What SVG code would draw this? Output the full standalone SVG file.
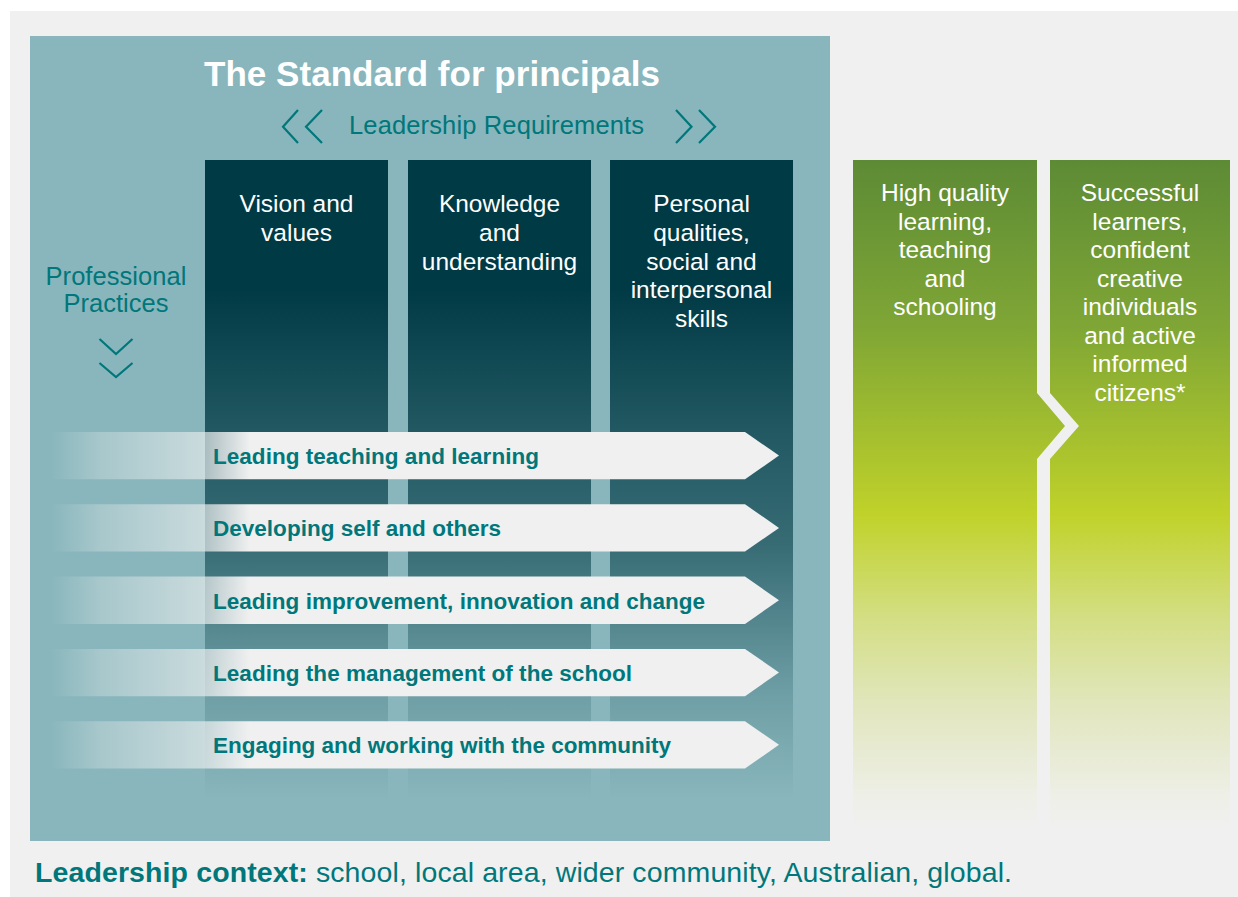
<svg xmlns="http://www.w3.org/2000/svg" width="1238" height="897" viewBox="0 0 1238 897">
<defs>
<linearGradient id="gCol" x1="0" y1="0" x2="0" y2="1">
<stop offset="0" stop-color="#003a45" stop-opacity="1"/>
<stop offset="0.2" stop-color="#003a45" stop-opacity="1"/>
<stop offset="0.42" stop-color="#003a45" stop-opacity="0.76"/>
<stop offset="0.6" stop-color="#003a45" stop-opacity="0.6"/>
<stop offset="0.84" stop-color="#003a45" stop-opacity="0.18"/>
<stop offset="1" stop-color="#003a45" stop-opacity="0"/>
</linearGradient>
<linearGradient id="gBand" gradientUnits="userSpaceOnUse" x1="50" y1="0" x2="250" y2="0">
<stop offset="0" stop-color="#f0f0f0" stop-opacity="0"/>
<stop offset="0.25" stop-color="#f0f0f0" stop-opacity="0.3"/>
<stop offset="0.75" stop-color="#f0f0f0" stop-opacity="0.62"/>
<stop offset="1" stop-color="#f0f0f0" stop-opacity="1"/>
</linearGradient>
<linearGradient id="gGreen" gradientUnits="userSpaceOnUse" x1="0" y1="160" x2="0" y2="830">
<stop offset="0" stop-color="#5d8b35"/>
<stop offset="0.25" stop-color="#7fa635"/>
<stop offset="0.53" stop-color="#c0d22a"/>
<stop offset="0.68" stop-color="#d3de82"/>
<stop offset="0.81" stop-color="#e1e6bc"/>
<stop offset="0.95" stop-color="#eeefe7"/>
<stop offset="1" stop-color="#f0f0f0"/>
</linearGradient>
<path id="band" d="M50,0 H745 L779,23.6 L745,47.3 H50 Z"/>
</defs>
<style>
.t{font-family:"Liberation Sans",Arial,sans-serif}
.wh{fill:#ffffff;font-size:24.5px;text-anchor:middle}
.tl{fill:#00777a}
.bt{fill:#00777a;font-size:22.5px;font-weight:bold}
.chev{fill:none;stroke:#00777a;stroke-width:2.2}
.dc{fill:url(#gCol)}
.bnd{fill:url(#gBand)}
.gr{fill:url(#gGreen)}
</style>
<rect x="10" y="11" width="1228" height="886" fill="#f0f0f0"/>
<g id="standard-box">
<rect x="30" y="36" width="800" height="805" fill="#88b6bc"/>
<text class="t" x="432" y="86" fill="#ffffff" font-size="35" font-weight="bold" text-anchor="middle" textLength="456">The Standard for principals</text>
<text class="t tl" x="496.5" y="134" font-size="25.5" text-anchor="middle" textLength="295">Leadership Requirements</text>
</g>
<g id="col-vision">
<rect class="dc" x="205" y="160" width="183" height="640"/>
<text class="t wh" x="296.5" y="212">Vision and</text>
<text class="t wh" x="296.5" y="241">values</text>
</g>
<g id="col-knowledge">
<rect class="dc" x="408" y="160" width="183" height="640"/>
<text class="t wh" x="499.5" y="212">Knowledge</text>
<text class="t wh" x="499.5" y="241">and</text>
<text class="t wh" x="499.5" y="270">understanding</text>
</g>
<g id="col-personal">
<rect class="dc" x="610" y="160" width="183" height="640"/>
<text class="t wh" x="701.5" y="212">Personal</text>
<text class="t wh" x="701.5" y="241">qualities,</text>
<text class="t wh" x="701.5" y="270">social and</text>
<text class="t wh" x="701.5" y="298">interpersonal</text>
<text class="t wh" x="701.5" y="327">skills</text>
</g>
<g id="professional-practices">
<text class="t tl" x="116" y="285" font-size="25.5" text-anchor="middle" textLength="141">Professional</text>
<text class="t tl" x="116" y="312" font-size="25.5" text-anchor="middle">Practices</text>
</g>
<g id="practice-1">
<use href="#band" class="bnd" y="432"/>
<text class="t bt" x="213" y="463.5" textLength="326">Leading teaching and learning</text>
</g>
<g id="practice-2">
<use href="#band" class="bnd" y="504.3"/>
<text class="t bt" x="213" y="536" textLength="288">Developing self and others</text>
</g>
<g id="practice-3">
<use href="#band" class="bnd" y="576.6"/>
<text class="t bt" x="213" y="608.5" textLength="492">Leading improvement, innovation and change</text>
</g>
<g id="practice-4">
<use href="#band" class="bnd" y="648.9"/>
<text class="t bt" x="213" y="680.5" textLength="419">Leading the management of the school</text>
</g>
<g id="practice-5">
<use href="#band" class="bnd" y="721.2"/>
<text class="t bt" x="213" y="753" textLength="458">Engaging and working with the community</text>
</g>
<g id="outcome-quality">
<path class="gr" d="M853,160 H1037 V393 L1065,426 L1037,459 V830 H853 Z"/>
<text class="t wh" x="945" y="201">High quality</text>
<text class="t wh" x="945" y="229.5">learning,</text>
<text class="t wh" x="945" y="258">teaching</text>
<text class="t wh" x="945" y="286.5">and</text>
<text class="t wh" x="945" y="315">schooling</text>
</g>
<g id="outcome-learners">
<path class="gr" d="M1050,160 H1230 V830 H1050 V459 L1079,426 L1050,393 Z"/>
<text class="t wh" x="1140" y="201">Successful</text>
<text class="t wh" x="1140" y="229.5">learners,</text>
<text class="t wh" x="1140" y="258">confident</text>
<text class="t wh" x="1140" y="286.5">creative</text>
<text class="t wh" x="1140" y="315">individuals</text>
<text class="t wh" x="1140" y="343.5">and active</text>
<text class="t wh" x="1140" y="372">informed</text>
<text class="t wh" x="1140" y="400.5">citizens*</text>
</g>
<g id="context">
<text class="t tl" x="35" y="882" font-size="28.5" textLength="977"><tspan font-weight="bold">Leadership context:</tspan> school, local area, wider community, Australian, global.</text>
</g>
<g id="connectors">
<polyline class="chev" points="298,110 283,126.7 298,143"/>
<polyline class="chev" points="322,110 306,126.7 322,143"/>
<polyline class="chev" points="676,110 691.5,126.7 676,143"/>
<polyline class="chev" points="699,110 715,126.7 699,143"/>
<polyline class="chev" points="99.5,339 116,354 132.5,339"/>
<polyline class="chev" points="99.5,363 116,377 132.5,363"/>
</g>
</svg>
